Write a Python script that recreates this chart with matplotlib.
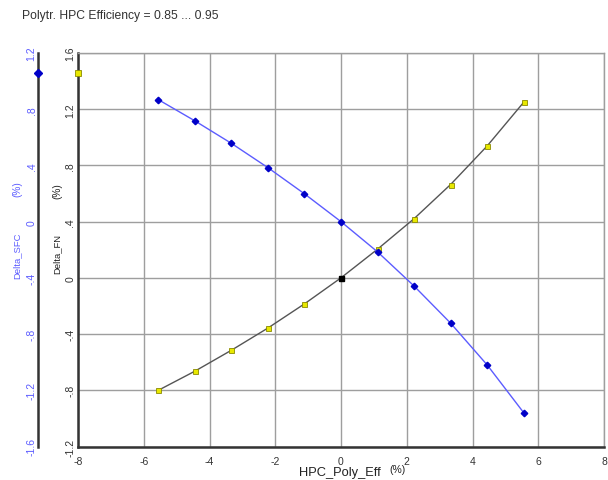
import numpy as np
import matplotlib
matplotlib.use("Agg")
import matplotlib.pyplot as plt
import matplotlib.ticker as mtick
import matplotlib.transforms as transforms

plt.rcParams['font.family'] = ['Liberation Sans', 'DejaVu Sans']
plt.rcParams['axes.unicode_minus'] = False

# data
hpc_poly_eff = [-5.556, -4.444, -3.333, -2.222, -1.111, 0.0,
                1.111, 2.222, 3.333, 4.444, 5.556]
delta_fn = [-0.80, -0.664, -0.515, -0.357, -0.185, 0.0,
            0.204, 0.421, 0.664, 0.938, 1.249]
delta_sfc = [0.868, 0.717, 0.557, 0.384, 0.198, 0.0,
             -0.215, -0.458, -0.722, -1.019, -1.359]
fn_marker_value = 1.456   # yellow square on the FN axis
sfc_marker_value = 1.056  # blue diamond on the SFC axis

x_ticks = [-8, -6, -4, -2, 0, 2, 4, 6, 8]
fn_ticks = [-1.2, -0.8, -0.4, 0.0, 0.4, 0.8, 1.2, 1.6]
sfc_ticks = [-1.6, -1.2, -0.8, -0.4, 0.0, 0.4, 0.8, 1.2]

BLUE = '#5c5cff'
BLUE_DARK = '#0000c8'
GRID = '#9e9e9e'


def short_fmt(v, pos=None):
    s = '%g' % round(v, 3)
    if s.startswith('0.'):
        s = s[1:]
    elif s.startswith('-0.'):
        s = '-' + s[2:]
    return s


fig = plt.figure(figsize=(6.08, 4.81), dpi=100)
ax = fig.add_axes([78 / 608, 1 - 447.5 / 481, (604 - 78) / 608, (447.5 - 54) / 481])

ax.plot(hpc_poly_eff, delta_fn, color='#555555', lw=1.0, zorder=3)
ax.plot(hpc_poly_eff, delta_fn, ls='none', marker='s', ms=3.6,
        mfc='#e8e800', mec='#8a8a00', mew=0.6, zorder=4)
i0 = hpc_poly_eff.index(0.0)
ax.plot([hpc_poly_eff[i0]], [delta_fn[i0]], ls='none', marker='s', ms=3.6,
        mfc='black', mec='black', zorder=5)

ax.set_xlim(-8, 8)
ax.set_ylim(-1.2, 1.6)
ax.set_xticks(x_ticks)
ax.set_yticks(fn_ticks)
ax.yaxis.set_major_formatter(mtick.FuncFormatter(short_fmt))
ax.grid(True, color=GRID, lw=1.0)
ax.tick_params(axis='both', length=0, labelsize=7.5, colors='#333333')
ax.tick_params(axis='y', pad=2)
ax.tick_params(axis='x', pad=7)
for lab in ax.get_yticklabels():
    lab.set_rotation(90)
    lab.set_va('center')
    lab.set_ha('right')
for sp in ['left', 'bottom']:
    ax.spines[sp].set_linewidth(1.8)
    ax.spines[sp].set_color('#333333')
for sp in ['top', 'right']:
    ax.spines[sp].set_linewidth(1.0)
    ax.spines[sp].set_color(GRID)

# yellow marker on the FN spine
ax.plot([-8], [fn_marker_value], ls='none', marker='s', ms=4.2,
        mfc='#e8e800', mec='#8a8a00', mew=0.6, clip_on=False, zorder=6)

# second (SFC) axis on the left
ax2 = ax.twinx()
ax2.plot(hpc_poly_eff, delta_sfc, color=BLUE, lw=1.0, zorder=3)
ax2.plot(hpc_poly_eff, delta_sfc, ls='none', marker='D', ms=3.3,
         mfc=BLUE_DARK, mec=BLUE_DARK, zorder=4)
ax2.set_ylim(-1.6, 1.2)
ax2.set_yticks(sfc_ticks)
ax2.yaxis.set_major_formatter(mtick.FuncFormatter(short_fmt))
ax2.yaxis.set_ticks_position('left')
ax2.yaxis.set_label_position('left')
ax2.spines['left'].set_position(('outward', 40 * 72 / 100))
ax2.spines['left'].set_linewidth(1.8)
ax2.spines['left'].set_color('#333333')
ax2.spines['right'].set_visible(False)
ax2.spines['top'].set_visible(False)
ax2.spines['bottom'].set_visible(False)
ax2.tick_params(axis='y', length=0, labelsize=7.5, labelcolor=BLUE, pad=1)
for lab in ax2.get_yticklabels():
    lab.set_rotation(90)
    lab.set_va('center')
    lab.set_ha('right')

trans = transforms.blended_transform_factory(fig.transFigure, ax2.transData)
ax2.plot([38 / 608], [sfc_marker_value], ls='none', marker='D', ms=4,
         mfc=BLUE_DARK, mec=BLUE_DARK, transform=trans, clip_on=False, zorder=6)

# axis titles
fig.text(17 / 608, 1 - 256 / 481, 'Delta_SFC', rotation=90, color=BLUE,
         fontsize=6.8, ha='center', va='center')
fig.text(17 / 608, 1 - 189 / 481, '(%)', rotation=90, color=BLUE,
         fontsize=7.2, ha='center', va='center')
fig.text(57 / 608, 1 - 254 / 481, 'Delta_FN', rotation=90, color='#222222',
         fontsize=6.8, ha='center', va='center')
fig.text(57 / 608, 1 - 191 / 481, '(%)', rotation=90, color='#222222',
         fontsize=7.2, ha='center', va='center')
fig.text(340 / 608, 1 - 473.5 / 481, 'HPC_Poly_Eff', color='#222222',
         fontsize=9.3, ha='center', va='center')
fig.text(397 / 608, 1 - 470 / 481, '(%)', color='#222222',
         fontsize=7.5, ha='center', va='center')

fig.text(22 / 608, 1 - 16 / 481, 'Polytr. HPC Efficiency = 0.85 ... 0.95',
         color='#333333', fontsize=8.7, ha='left', va='center')

fig.savefig('out.png', dpi=100)
